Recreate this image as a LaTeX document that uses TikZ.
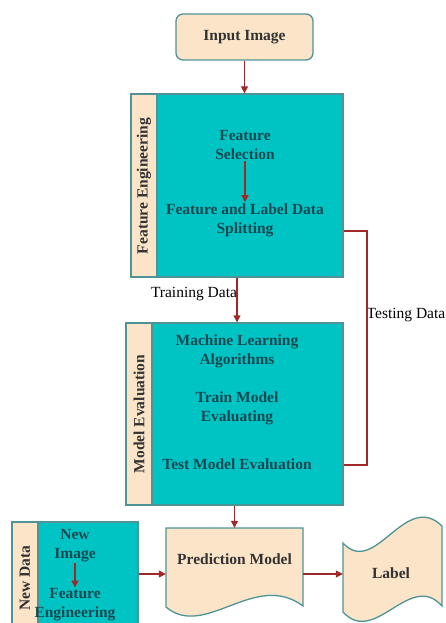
\documentclass[tikz,border=0pt]{standalone}
\usepackage{fontspec}
\setmainfont{Liberation Serif}
\usetikzlibrary{arrows.meta}
\definecolor{tealfill}{RGB}{0,196,196}
\definecolor{beige}{RGB}{251,228,200}
\definecolor{edgec}{RGB}{78,148,150}
\definecolor{arrowred}{RGB}{160,40,40}
\definecolor{boxtext}{RGB}{22,72,82}
\definecolor{darktext}{RGB}{50,50,50}
\begin{document}
\begin{tikzpicture}[x=1pt,y=-1pt,
  font=\fontsize{15.5}{19}\selectfont,
  tealbox/.style={draw=edgec, line width=1.3pt, fill=tealfill, inner sep=0pt},
  stripbox/.style={draw=edgec, line width=1.3pt, fill=beige, inner sep=0pt},
  intext/.style={text=boxtext, font=\fontsize{15.5}{19}\selectfont\bfseries, align=center, inner sep=1pt},
  sidetext/.style={text=darktext, font=\fontsize{15.5}{19}\selectfont\bfseries, rotate=90, inner sep=0pt},
  plaintext/.style={text=black, inner sep=0pt},
  arr/.style={draw=arrowred, line width=1.3pt, -{Triangle[width=7pt,length=7pt]}},
  link/.style={draw=arrowred, line width=1.1pt},
  shapeline/.style={draw=edgec, line width=1.3pt, fill=beige}
]
\useasboundingbox (0,0) rectangle (446,623);
\clip (0,0) rectangle (446,623);

% Input image
\node[shapeline, rounded corners=7pt, minimum width=137, minimum height=46, inner sep=0pt,
      text=darktext, font=\fontsize{15.5}{19}\selectfont\bfseries] (input) at (244.5,37) {Input Image};

% Feature engineering box
\node[tealbox, minimum width=212, minimum height=183] (fe) at (237,185.5) {};
\node[stripbox, minimum width=26, minimum height=183] (festrip) at (144,185.5) {};
\node[sidetext] (felab) at (144,186) {Feature Engineering};
\node[intext] (fs) at (245,145.5) {Feature\\Selection};
\node[intext] (fsplit) at (245,220) {Feature and Label Data\\Splitting};

% Model evaluation box
\node[tealbox, minimum width=217, minimum height=182] (me) at (234.5,414) {};
\node[stripbox, minimum width=26, minimum height=182] (mestrip) at (139,414) {};
\node[sidetext] (melab) at (139,414) {Model Evaluation};
\node[intext] (mla) at (237,351) {Machine Learning\\Algorithms};
\node[intext] (tme) at (237,408) {Train Model\\Evaluating};
\node[intext] (test) at (237,464) {Test Model Evaluation};

% Labels on connectors
\node[plaintext] (trainlab) at (194,294) {Training Data};
\node[plaintext] (testlab) at (406,315) {Testing Data};

% Prediction model (document shape)
\node[minimum width=137, minimum height=78, inner sep=0pt] (pred) at (234.5,567) {};
\draw[shapeline] (166,607) -- (166,528) -- (303,528) -- (303,606)
  .. controls (255,570) and (205,640) .. (166,607) -- cycle;
\node[text=darktext, font=\fontsize{15.5}{19}\selectfont\bfseries, inner sep=0pt] (predtext) at (234.5,559) {Prediction Model};

% Label (tape shape)
\node[minimum width=99, minimum height=90, inner sep=0pt] (lbl) at (392.5,567) {};
\draw[shapeline] (343,543) .. controls (375,578) and (405,490) .. (442,526)
  -- (442,606) .. controls (410,570) and (375,647) .. (343,612) -- cycle;
\node[text=darktext, font=\fontsize{15.5}{19}\selectfont\bfseries, inner sep=0pt] (lbltext) at (391,573) {Label};

% New data box
\node[tealbox, minimum width=126, minimum height=128] (nd) at (75,586) {};
\node[stripbox, minimum width=26, minimum height=128] (ndstrip) at (25,586) {};
\node[sidetext] (ndlab) at (25,578) {New Data};
\node[intext] (ni) at (75,546) {New\\Image};
\node[intext] (nfe) at (75,605) {Feature\\Engineering};

% Coordinates for connectors
\coordinate (row) at (0,574);
\coordinate (tdtop) at (367,231);
\coordinate (tdbot) at (367,465);

% Connectors
\draw[arr] (input) -- (fe.north -| input);
\draw[arr] (fs) -- (fsplit);
\draw[arr] (fe.south) -- (me.north -| fe.south);
\draw[link] (fe.east |- tdtop) -- (tdtop) -- (tdbot) -- (me.east |- tdbot);
\draw[arr] (me.south) -- (pred.north);
\draw[arr] (ni) -- (nfe);
\draw[arr] (nd.east |- row) -- (pred.west |- row);
\draw[arr] (pred.east |- row) -- (lbl.west |- row);
\end{tikzpicture}
\end{document}
